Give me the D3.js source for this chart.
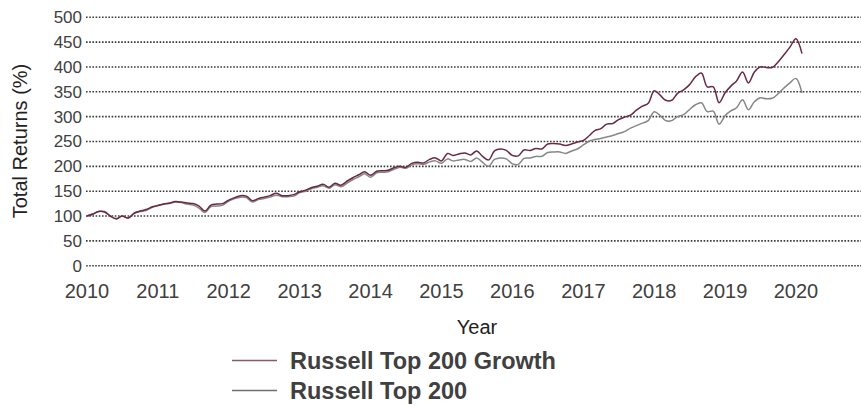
<!DOCTYPE html>
<html lang="en">
<head>
<meta charset="UTF-8">
<title>Russell Top 200 Growth vs Russell Top 200</title>
<script src="https://d3js.org/d3.v7.min.js"></script>
<style>
    body { margin: 0; background: #fff; }
    svg { display: block; font-family: "Liberation Sans", Arial, sans-serif; }
    .tick-y { font-size: 17px; fill: #404040; }
    .tick-x { font-size: 20px; fill: #404040; }
    .axis-title { font-size: 20px; fill: #222; }
    .legend-text { font-size: 23.5px; font-weight: bold; fill: #404040; }
</style>
</head>
<body>
<svg id="chart" width="861" height="406"></svg>
<script>
// monthly total returns, first value = Jan 2010
const firstMonth = new Date(2010, 0, 1);
const growth = [
    100, 104, 109, 108, 100, 94, 100, 96, 106, 110, 113, 118,
    121, 124, 126, 129, 128, 126, 125, 120, 110, 122, 124, 125,
    132, 137, 141, 140, 131, 135, 138, 141, 146, 141, 141, 143,
    149, 152, 157, 160, 164, 158, 166, 162, 170, 177, 183, 189,
    182, 190, 191, 192, 197, 200, 198, 206, 208, 207, 214, 217,
    211, 226, 222, 225, 227, 223, 231, 220, 213, 231, 235, 232,
    222, 221, 233, 232, 236, 235, 245, 246, 245, 242, 245, 249,
    252, 262, 272, 276, 285, 286, 294, 299, 303, 313, 321, 327,
    352, 343, 333, 333, 347, 354, 364, 380, 388, 360, 360, 328,
    348, 362, 372, 390, 368, 390, 400, 399, 399, 410, 425, 440,
    457, 427
];
const top200 = [
    100, 104, 109, 109, 100, 95, 100, 96, 105, 109, 111, 117,
    121, 124, 125, 128, 127, 124, 122, 116, 107, 119, 120, 122,
    130, 135, 138, 137, 128, 133, 135, 138, 142, 139, 139, 140,
    147, 150, 155, 158, 161, 156, 163, 159, 166, 173, 179, 185,
    178, 187, 188, 189, 194, 198, 196, 203, 205, 204, 209, 211,
    206, 215, 211, 213, 214, 210, 217, 208, 200, 214, 217, 215,
    205, 204, 216, 217, 220, 220, 228, 229, 229, 226, 231, 235,
    243, 251, 254, 256, 259, 262, 266, 270, 277, 282, 287, 292,
    310, 302, 292, 292, 300, 304, 314, 324, 328, 310, 311, 285,
    302, 312, 318, 334, 314, 330, 338, 336, 337, 346, 358, 368,
    377, 348
];
const seriesNames = ["Russell Top 200 Growth", "Russell Top 200"];
const seriesColors = ["#6b2744", "#868686"];
const legendColors = ["#8a5a6c", "#707070"];
const yTicks = [0, 50, 100, 150, 200, 250, 300, 350, 400, 450, 500];
const xTicks = [2010, 2011, 2012, 2013, 2014, 2015, 2016, 2017, 2018, 2019, 2020];

const svg = d3.select("#chart");

const x = d3.scaleTime()
    .domain([new Date(2010, 0, 1), new Date(2021, 0, 1)])
    .range([87, 867]);
const y = d3.scaleLinear()
    .domain([0, 500])
    .range([265.7, 17.3]);

const toPoints = vals => vals.map((v, i) => ({ date: d3.timeMonth.offset(firstMonth, i), value: v }));

// grid lines
svg.append("g").selectAll("line")
    .data(yTicks)
    .enter().append("line")
    .attr("x1", 86).attr("x2", 861)
    .attr("y1", d => y(d)).attr("y2", d => y(d))
    .attr("stroke", d => d === 0 ? "#666" : "#3a3a3a")
    .attr("stroke-width", 1.6)
    .attr("stroke-dasharray", d => d === 0 ? "2,1" : "1.6,1.6");

// y tick labels
svg.append("g").selectAll("text")
    .data(yTicks)
    .enter().append("text")
    .attr("class", "tick-y")
    .attr("x", 82)
    .attr("y", d => y(d))
    .attr("dy", "0.35em")
    .attr("text-anchor", "end")
    .text(d => d);

// x tick labels
svg.append("g").selectAll("text")
    .data(xTicks)
    .enter().append("text")
    .attr("class", "tick-x")
    .attr("x", d => x(new Date(d, 0, 1)))
    .attr("y", 298)
    .attr("text-anchor", "middle")
    .text(d => d);

svg.append("text")
    .attr("class", "axis-title")
    .attr("transform", "translate(27,141) rotate(-90)")
    .attr("text-anchor", "middle")
    .text("Total Returns (%)");

svg.append("text")
    .attr("class", "axis-title")
    .attr("x", 477)
    .attr("y", 334)
    .attr("text-anchor", "middle")
    .text("Year");

const line = d3.line()
    .x(d => x(d.date))
    .y(d => y(d.value))
    .curve(d3.curveCatmullRom.alpha(0.5));

// gray first so the growth line sits on top
[top200, growth].forEach((vals, k) => {
    const idx = k === 0 ? 1 : 0;
    svg.append("path")
        .datum(toPoints(vals))
        .attr("fill", "none")
        .attr("stroke", seriesColors[idx])
        .attr("stroke-width", 1.5)
        .attr("d", line);
});

// legend
const legend = svg.append("g").selectAll("g")
    .data(seriesNames)
    .enter().append("g")
    .attr("transform", (d, i) => `translate(232,${360.5 + i * 30})`);
legend.append("line")
    .attr("x1", 0).attr("x2", 45)
    .attr("stroke", (d, i) => legendColors[i])
    .attr("stroke-width", 1.5);
legend.append("text")
    .attr("class", "legend-text")
    .attr("x", 58)
    .attr("dy", "0.35em")
    .text(d => d);
</script>
</body>
</html>
